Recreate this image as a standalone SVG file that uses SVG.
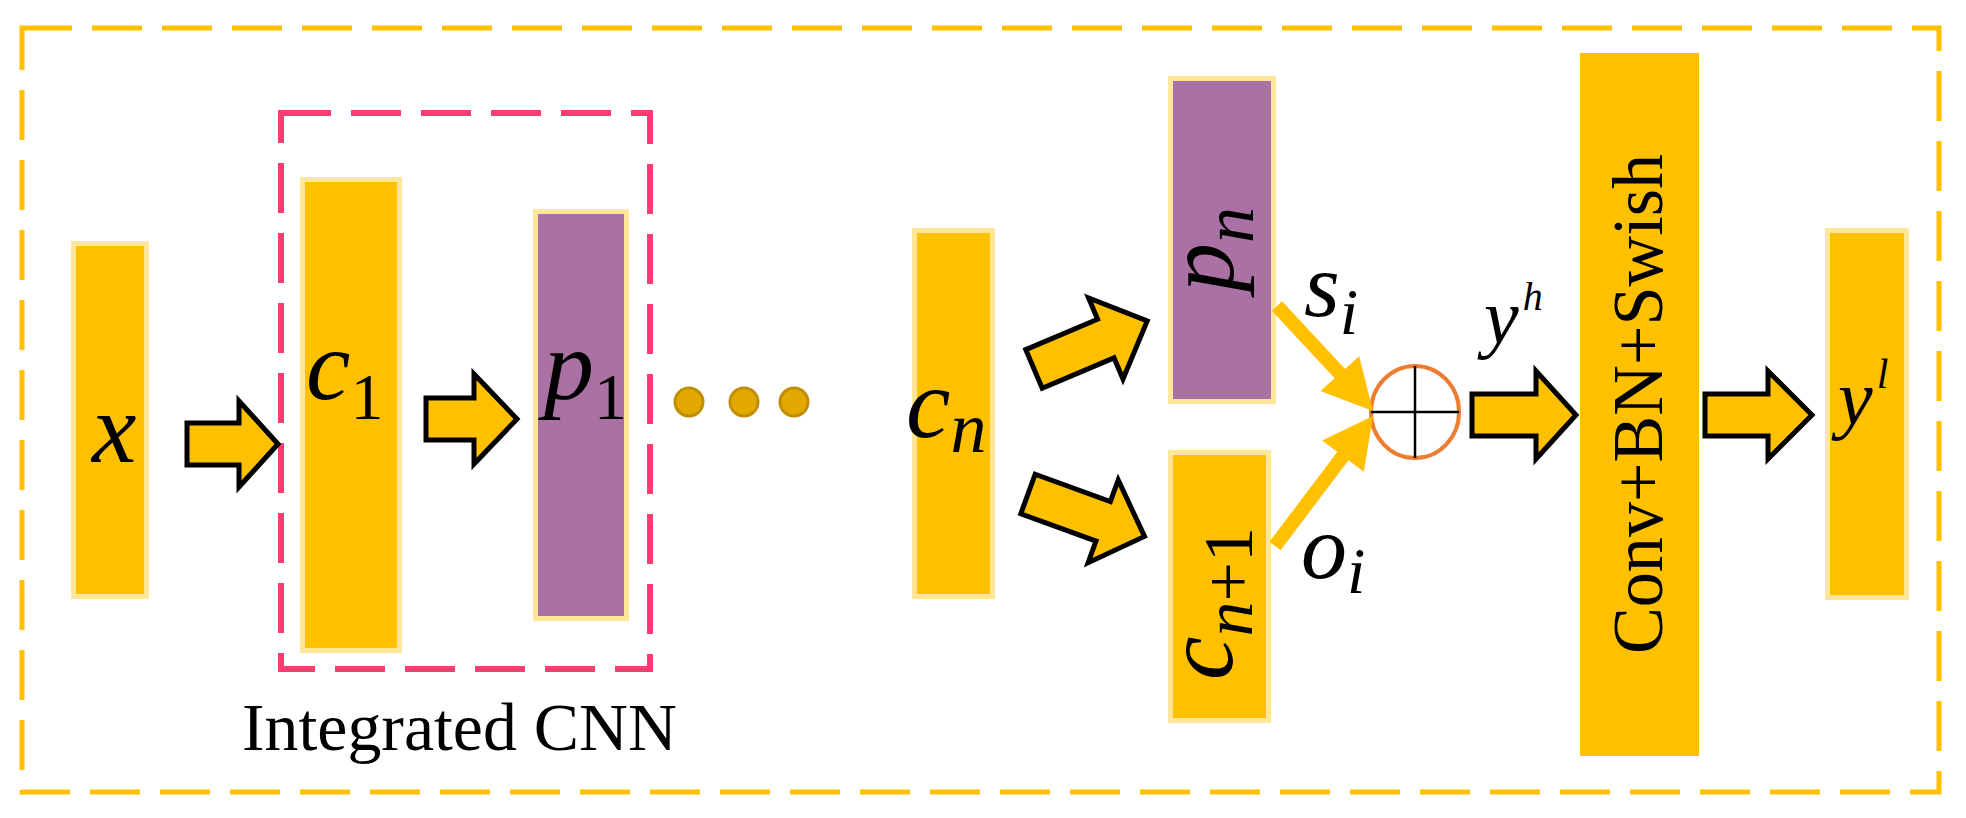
<svg xmlns="http://www.w3.org/2000/svg" width="1966" height="818" viewBox="0 0 1966 818">
<style>
.box{fill:#FFC000;stroke:#FFE699;stroke-width:5}
.pbox{fill:#AA71A4;stroke:#FFE699;stroke-width:5}
.blk{fill:#FFC000;stroke:#000;stroke-width:5;stroke-linejoin:miter}
.math{font-family:"Liberation Serif","Times New Roman",serif;font-style:italic;fill:#000}
.rm{font-style:normal}
.lbl{font-family:"Liberation Serif","Times New Roman",serif;fill:#000}
.dot{fill:#E3A900;stroke:#C08F00;stroke-width:3}
.thick{stroke:#FFC000;stroke-width:14;fill:none}
.head{fill:#FFC000}
</style>
<rect width="1966" height="818" fill="#fff"/>
<g id="frame">
<rect x="22" y="28" width="1917" height="764" fill="none" stroke="#FFC000" stroke-width="5" stroke-dasharray="50 20"/>
</g>
<g id="integrated-cnn">
<rect x="281" y="113" width="369" height="556" fill="none" stroke="#FF3B73" stroke-width="6" stroke-dasharray="50 20"/>
<text class="lbl" x="242" y="750" font-size="68" textLength="435" lengthAdjust="spacingAndGlyphs">Integrated CNN</text>
</g>
<g id="node-x">
<rect class="box" x="73.5" y="243.5" width="73" height="353"/>
<text class="math" x="92" y="462" font-size="100">x</text>
</g>
<g id="node-c1">
<rect class="box" x="302.5" y="179.5" width="97" height="471"/>
<text class="math" x="306" y="399" font-size="100">c<tspan class="rm" font-size="66" dy="20">1</tspan></text>
</g>
<g id="node-p1">
<rect class="pbox" x="535.5" y="211.5" width="91" height="407"/>
<text class="math" x="544" y="399" font-size="100">p<tspan class="rm" font-size="66" dy="20">1</tspan></text>
</g>
<g id="dots">
<circle class="dot" cx="689" cy="402" r="14"/>
<circle class="dot" cx="744" cy="402" r="14"/>
<circle class="dot" cx="794" cy="402" r="14"/>
</g>
<g id="node-cn">
<rect class="box" x="914.5" y="230.5" width="78" height="366"/>
<text class="math" x="906" y="437" font-size="100">c<tspan font-size="72" dy="15">n</tspan></text>
</g>
<g id="node-pn">
<rect class="pbox" x="1170.5" y="78.5" width="103" height="323"/>
<text class="math" transform="translate(1233,292) rotate(-90)" font-size="98">p<tspan font-size="72" dy="20">n</tspan></text>
</g>
<g id="node-cn1">
<rect class="box" x="1170.5" y="452.5" width="98" height="268"/>
<text class="math" transform="translate(1232,680) rotate(-90)" font-size="98">c<tspan font-size="70" dy="20">n</tspan><tspan class="rm" font-size="70">+1</tspan></text>
</g>
<g id="node-sum">
<ellipse cx="1415" cy="412" rx="44" ry="46" fill="#fff" stroke="#ED7D31" stroke-width="4"/>
<line x1="1371" y1="412" x2="1459" y2="412" stroke="#000" stroke-width="2.5"/>
<line x1="1415" y1="366" x2="1415" y2="458" stroke="#000" stroke-width="2.5"/>
</g>
<g id="node-conv">
<rect x="1580" y="53" width="119" height="703" fill="#FFC000"/>
<text class="lbl" transform="translate(1662,404) rotate(-90)" font-size="72" text-anchor="middle" textLength="500" lengthAdjust="spacingAndGlyphs">Conv+BN+Swish</text>
</g>
<g id="node-yl">
<rect class="box" x="1827.5" y="230.5" width="79" height="367"/>
<text class="math" x="1838" y="424" font-size="78">y<tspan font-size="42" dy="-36" dx="4">l</tspan></text>
</g>
<g id="labels">
<text class="math" x="1304" y="316" font-size="92">s<tspan font-size="66" dy="18">i</tspan></text>
<text class="math" x="1301" y="578" font-size="92">o<tspan font-size="66" dy="15">i</tspan></text>
<text class="math" x="1484" y="343" font-size="78">y<tspan font-size="40" dy="-33" dx="4">h</tspan></text>
</g>
<g id="connectors">
<path class="blk" transform="translate(187,444)" d="M0,-21 H52 V-43 L91,0 L52,43 V21 H0 Z"/>
<path class="blk" transform="translate(426,419)" d="M0,-21 H48 V-45 L91,0 L48,45 V21 H0 Z"/>
<path class="blk" transform="translate(1034,369) rotate(-23)" d="M0,-21 H78 V-44 L123,0 L78,44 V21 H0 Z"/>
<path class="blk" transform="translate(1028,494) rotate(20)" d="M0,-21 H80 V-44 L124,0 L80,44 V21 H0 Z"/>
<path class="blk" transform="translate(1472,415)" d="M0,-21 H64 V-44 L104,0 L64,44 V21 H0 Z"/>
<path class="blk" transform="translate(1705,415)" d="M0,-21 H63 V-44 L107,0 L63,44 V21 H0 Z"/>
<line class="thick" x1="1277" y1="306" x2="1343" y2="377"/>
<polygon class="head" points="1373,411 1320.4,390.9 1359.2,356.3"/>
<line class="thick" x1="1275" y1="546" x2="1346" y2="452"/>
<polygon class="head" points="1373,416 1363.8,471.7 1322.2,440.5"/>
</g>
</svg>
